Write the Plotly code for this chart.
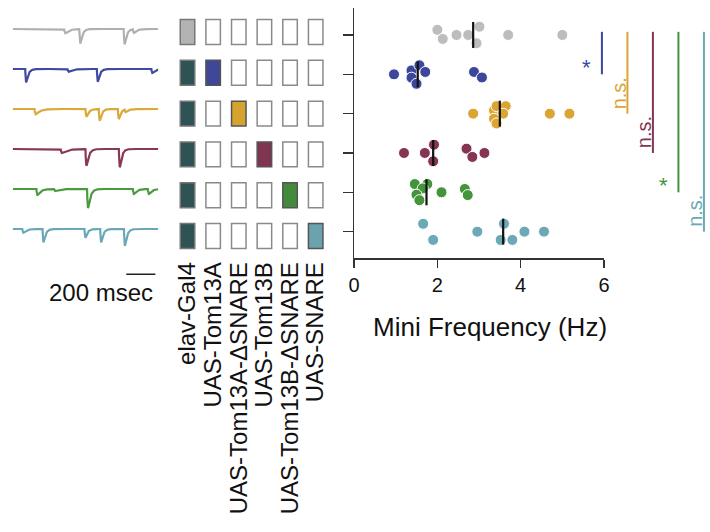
import numpy as np
import plotly.graph_objects as go

# ---------------- data ----------------
genotype_labels = ["elav-Gal4", "UAS-Tom13A", "UAS-Tom13A-\u0394SNARE",
                   "UAS-Tom13B", "UAS-Tom13B-\u0394SNARE", "UAS-SNARE"]
row_colors = ["#bdbdbd", "#3c479c", "#dba531", "#853553", "#43943a", "#6aa9b5"]
box_colors = ["#b3b3b3", "#3f4799", "#d6a32e", "#7f3452", "#448a3c", "#6aa3ae"]
trace_colors = ["#b0b0b0", "#3f4aa0", "#dba83a", "#8a3656", "#4a9a3e", "#6aa8b8"]
driver_color = "#2f5354"
# transgene column for each row (row 0 = driver alone)
row_transgene = [None, 1, 2, 3, 4, 5]

# mini frequency (Hz) per genotype row
freq_gray = [2.00, 2.13, 2.46, 2.74, 3.01, 2.94, 3.70, 5.00]
freq_blue = [0.96, 1.38, 1.38, 1.57, 1.71, 1.50, 2.88, 3.07]
freq_orange = [2.86, 3.36, 3.42, 3.64, 3.58, 3.36, 3.42, 4.70, 5.17]
freq_maroon = [1.20, 1.70, 1.92, 1.90, 2.70, 2.84, 3.13]
freq_green = [1.46, 1.76, 1.65, 1.50, 1.57, 2.10, 2.66, 2.73]
freq_teal = [1.66, 1.90, 2.96, 3.60, 3.52, 3.80, 4.09, 4.56]
freqs = [freq_gray, freq_blue, freq_orange, freq_maroon, freq_green, freq_teal]

# vertical jitter of each dot (row units)
jit_gray = [-0.13, 0.10, 0, 0, -0.21, 0.21, 0, 0]
jit_blue = [0, -0.10, 0.085, -0.23, -0.06, 0.24, -0.06, 0.08]
jit_orange = [0, -0.085, -0.19, -0.19, 0, 0.13, 0.25, 0, 0]
jit_maroon = [0, 0, -0.21, 0.21, -0.11, 0.10, 0]
jit_green = [-0.21, -0.21, -0.10, 0.06, 0.20, 0, -0.085, 0.07]
jit_teal = [-0.2, 0.21, 0, -0.2, 0.21, 0.21, 0, 0]
jitters = [jit_gray, jit_blue, jit_orange, jit_maroon, jit_green, jit_teal]

medians = [2.86, 1.53, 3.50, 1.90, 1.74, 3.58]

# significance vs control (row 0)
sig_labels = ["*", "n.s.", "n.s.", "*", "n.s."]

# example mini traces: events (peak time ms, amplitude, decay ms)
trace_duration_ms = 1000
events_gray = [(361, 4.3, 25), (464, 14.3, 14), (768, 15.3, 14), (832, 3.7, 20)]
events_blue = [(92, 13.3, 14), (384, 2.7, 25), (584, 12.7, 14), (959, 4.0, 20)]
events_orange = [(158, 5.3, 30), (506, 7.7, 16), (597, 11.7, 14), (728, 10.0, 14), (775, 2.7, 20)]
events_maroon = [(338, 4.0, 35), (506, 16.7, 16), (735, 18.3, 14)]
events_green = [(170, 6.0, 22), (292, 2.0, 25), (517, 19.0, 16), (832, 5.0, 20), (935, 5.0, 20)]
events_teal = [(73, 3.7, 20), (211, 13.3, 14), (499, 8.7, 14), (607, 13.3, 14), (770, 16.7, 14)]
trace_events = [events_gray, events_blue, events_orange, events_maroon, events_green, events_teal]
scale_bar_ms = 200

# ---------------- figure ----------------
W, H = 710, 532
FONT = "Liberation Sans, Arial, Helvetica, sans-serif"
fig = go.Figure()


def pxx(px):  # pixel column -> paper x
    return px / W


def pyy(px):  # pixel row -> paper y
    return 1 - px / H


# --- traces (xaxis / yaxis) ---
t = np.arange(0, trace_duration_ms + 1, 1.0)
tr = 3.5
row_step = 40.0
for i, evs in enumerate(trace_events):
    y = np.zeros_like(t)
    for (tp, amp, td) in evs:
        s_peak = tr * np.log((tr + td) / tr)
        gmax = (1 - np.exp(-s_peak / tr)) * np.exp(-s_peak / td)
        s = np.clip(t - (tp - s_peak), 0, None)
        g = (1 - np.exp(-s / tr)) * np.exp(-s / td)
        y -= amp * g / gmax
    fig.add_trace(go.Scatter(x=t, y=y - i * row_step, mode="lines",
                             line=dict(color=trace_colors[i], width=2.2),
                             xaxis="x", yaxis="y", showlegend=False, hoverinfo="skip"))

# trace y axis: 1 unit = 1 px; baseline of first trace at pixel row 29
Y1_TOP = 29
Y1_RANGE = [Y1_TOP - H, Y1_TOP]

bar_end = 980
fig.add_trace(go.Scatter(x=[bar_end - scale_bar_ms, bar_end], y=[29 - 274.3, 29 - 274.3], mode="lines",
                         line=dict(color="#222", width=1.5), xaxis="x", yaxis="y",
                         showlegend=False, hoverinfo="skip"))
fig.add_annotation(x=bar_end, y=29 - 292, xref="x", yref="y", text=f"{scale_bar_ms} msec",
                   showarrow=False, xanchor="right", yanchor="middle",
                   font=dict(family=FONT, size=24, color="#111"))

# --- genotype boxes (xaxis2 / yaxis2) ---
bw, bh = 0.283, 0.305
for r in range(6):
    for c in range(6):
        if c == 0:
            fill = box_colors[0] if r == 0 else driver_color
            lc = "#777"
        elif row_transgene[r] == c:
            fill = box_colors[r]
            lc = "#555"
        else:
            fill = "white"
            lc = "#8a8a8a"
        fig.add_shape(type="rect", xref="x2", yref="y2", x0=c - bw, x1=c + bw,
                      y0=r - bh, y1=r + bh, fillcolor=fill, line=dict(color=lc, width=1.5))
fig.add_trace(go.Scatter(x=[0, 5], y=[0, 5], mode="markers", marker=dict(opacity=0),
                         xaxis="x2", yaxis="y2", showlegend=False, hoverinfo="skip"))

# --- scatter (xaxis3 / yaxis3) ---
for r in range(6):
    fig.add_trace(go.Scatter(x=freqs[r], y=[r + j for j in jitters[r]], mode="markers",
                             marker=dict(size=11, color=row_colors[r], line=dict(color="white", width=1)),
                             xaxis="x3", yaxis="y3", showlegend=False, hoverinfo="skip"))
    fig.add_trace(go.Scatter(x=[medians[r], medians[r]], y=[r - 0.33, r + 0.33], mode="lines",
                             line=dict(color="#111", width=2.2), xaxis="x3", yaxis="y3",
                             showlegend=False, hoverinfo="skip"))

X3_DOM = (pxx(354), pxx(604))
X3_RANGE = (0, 6)
Y3_DOM = (pyy(258), pyy(8))
Y3_RANGE = (5.67, -0.686)


def px_x(v):
    return X3_DOM[0] + (v - X3_RANGE[0]) / (X3_RANGE[1] - X3_RANGE[0]) * (X3_DOM[1] - X3_DOM[0])


def px_y(v):
    return Y3_DOM[0] + (v - Y3_RANGE[0]) / (Y3_RANGE[1] - Y3_RANGE[0]) * (Y3_DOM[1] - Y3_DOM[0])


bar_x0, bar_step = 5.95, 0.612
for k, lab in enumerate(sig_labels):
    r = k + 1
    bx = bar_x0 + k * bar_step
    fig.add_shape(type="line", xref="paper", yref="paper", x0=px_x(bx), x1=px_x(bx),
                  y0=px_y(-0.08), y1=px_y(r), line=dict(color=row_colors[r], width=2))
    if lab == "*":
        fig.add_annotation(x=px_x(bx - 0.36), y=px_y(r - 0.18), xref="paper", yref="paper",
                           text="*", showarrow=False, xanchor="center", yanchor="middle",
                           font=dict(family=FONT, size=22, color=row_colors[r]))
    else:
        fig.add_annotation(x=px_x(bx - 0.215), y=px_y(r - 0.07), xref="paper", yref="paper",
                           text=lab, showarrow=False, textangle=-90, xanchor="center", yanchor="bottom",
                           font=dict(family=FONT, size=20, color=row_colors[r]))

fig.add_annotation(x=pxx(490), y=pyy(327), xref="paper", yref="paper", text="Mini Frequency (Hz)",
                   showarrow=False, xanchor="center", yanchor="middle",
                   font=dict(family=FONT, size=26, color="#111"))

fig.update_layout(
    template="none",
    width=W, height=H, margin=dict(l=0, r=0, t=0, b=0, autoexpand=False),
    paper_bgcolor="white", plot_bgcolor="white",
    font=dict(family=FONT, color="#111"),
    hovermode=False,
    xaxis=dict(domain=[pxx(12.7), pxx(158.3)], range=[0, trace_duration_ms], visible=False, automargin=False),
    yaxis=dict(domain=[0, 1], range=Y1_RANGE, visible=False, automargin=False),
    xaxis2=dict(domain=[pxx(174.7), pxx(328.5)], range=[-0.5, 5.5], anchor="y2", automargin=False,
                tickmode="array", tickvals=list(range(6)), ticktext=genotype_labels,
                tickangle=-90, ticks="", showline=False, showgrid=False, zeroline=False,
                tickfont=dict(family=FONT, size=24, color="#111")),
    yaxis2=dict(domain=[pyy(256.4), pyy(11.6)], range=[5.5, -0.5], visible=False, anchor="x2",
                automargin=False),
    xaxis3=dict(domain=list(X3_DOM), range=list(X3_RANGE), anchor="y3", automargin=False,
                tickmode="array", tickvals=[0, 2, 4, 6], ticks="outside", ticklen=8,
                tickwidth=1.5, tickcolor="#333", showline=True, linecolor="#333", linewidth=1.5,
                showgrid=False, zeroline=False, tickfont=dict(family=FONT, size=20, color="#111")),
    yaxis3=dict(domain=list(Y3_DOM), range=list(Y3_RANGE), anchor="x3", automargin=False,
                tickmode="array", tickvals=list(range(6)), showticklabels=False,
                ticks="outside", ticklen=10, tickwidth=1.5, tickcolor="#333",
                showline=True, linecolor="#333", linewidth=1.5, showgrid=False, zeroline=False),
)

# remove the page's default body margin so the figure fills the window exactly
fig.write_html("out.html", config={"displayModeBar": False, "staticPlot": True},
               post_script="document.body.style.margin='0';document.body.style.overflow='hidden';")
